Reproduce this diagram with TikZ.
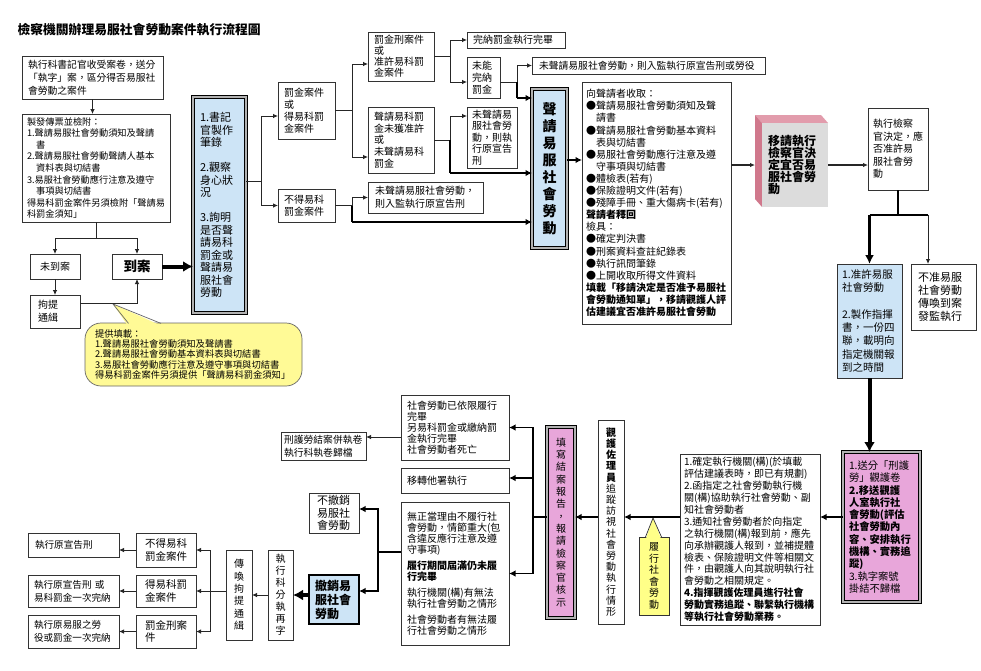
\documentclass[tikz,border=0pt]{standalone}
\usepackage{fontspec}
\setmainfont{Noto Sans CJK TC}
\usetikzlibrary{arrows.meta}
\definecolor{bluef}{RGB}{205,228,246}
\definecolor{pinkf}{RGB}{232,166,218}
\definecolor{yelf}{RGB}{255,255,136}
\definecolor{callf}{RGB}{255,250,150}
\definecolor{sideA}{RGB}{208,120,140}
\definecolor{sideB}{RGB}{226,156,172}
\definecolor{frontf}{RGB}{220,220,220}
\newcommand\myfs[2]{\fontsize{#1}{#2}\selectfont}
\newcommand\mkbox[8]{\node[#7, inner xsep=#6pt, minimum width={#4pt-#2pt}, minimum height={#5pt-#3pt}, text width={#4pt-#2pt-2*#6pt}] (#1) at ({(#2+#4)/2},{(#3+#5)/2}) {#8};}
\begin{document}
\begin{tikzpicture}[x=1pt,y=-1pt,
 box/.style={draw=black!80, line width=0.7pt, fill=white, align=left, inner ysep=2pt, outer sep=0pt},
 vbox/.style={box, align=center},
 dbl/.style={draw=black, line width=1.1pt, double=gray!60, double distance=1.4pt, align=left, inner ysep=3pt, outer sep=0pt},
 ln/.style={draw=black!85, line width=0.8pt},
 arr/.style={ln, -{Latex[length=5pt,width=4.5pt]}},
 mln/.style={draw=black, line width=1.8pt},
 marr/.style={mln, -{Latex[length=6.5pt,width=6.5pt]}},
 tln/.style={draw=black, line width=2.8pt},
 tarr/.style={tln, -{Latex[length=9pt,width=9pt]}},
 harr/.style={draw=black, line width=4pt, -{Latex[length=10pt,width=11pt]}}
]
\fill[white] (0,0) rectangle (981,670);
\useasboundingbox (0,0) rectangle (981,670);

\node[anchor=west, font={\myfs{12.8}{14}\bfseries}] (title) at (14,30) {檢察機關辦理易服社會勞動案件執行流程圖};

% left column
\mkbox{A}{22}{56}{163}{99}{6}{box,font={\myfs{9.8}{13.2}}}{執行科書記官收受案卷，送分\\「執字」案，區分得否易服社\\會勞動之案件}
\mkbox{B}{22}{114}{170}{222}{5}{box,font={\myfs{9.2}{11.6}}}{製發傳票並檢附：\\1.聲請易服社會勞動須知及聲請\\　書\\2.聲請易服社會勞動聲請人基本\\　資料表與切結書\\3.易服社會勞動應行注意及遵守\\　事項與切結書\\得易科罰金案件另須檢附「聲請易\\科罰金須知」}
\mkbox{NA}{30}{254}{80}{279}{4}{vbox,font={\myfs{10}{12}}}{未到案}
\mkbox{DA}{112}{254}{162}{279}{4}{vbox,font={\myfs{13.5}{15}\bfseries}}{到案}
\mkbox{KT}{30}{295}{80}{328}{8}{box,font={\myfs{10}{13}}}{拘提\\通緝}
\mkbox{C}{193}{97}{246}{313}{7}{dbl,fill=bluef,font={\myfs{11}{12.5}}}{1.書記\\官製作\\筆錄\\[12.5pt]2.觀察\\身心狀\\況\\[12.5pt]3.詢明\\是否聲\\請易科\\罰金或\\聲請易\\服社會\\勞動}

% callout Y
\mkbox{Y}{85}{323}{302}{386}{10}{box,draw=black!60,fill=callf,rounded corners=16pt,font={\myfs{9.3}{10.3}}}{提供填載：\\1.聲請易服社會勞動須知及聲請書\\2.聲請易服社會勞動基本資料表與切結書\\3.易服社會勞動應行注意及遵守事項與切結書\\得易科罰金案件另須提供「聲請易科罰金須知」}
\coordinate (ptY) at (113,304);
\fill[callf] (128,326) -- (ptY) -- (162,326) -- cycle;
\draw[black!60, line width=0.7pt] (128.5,323.4) -- (ptY) -- (161,323.4);

% middle top
\mkbox{D1}{278}{82}{335}{139}{6}{box,font={\myfs{10}{12}}}{罰金案件\\或\\得易科罰\\金案件}
\mkbox{D2}{278}{189}{335}{222}{6}{box,font={\myfs{10}{12}}}{不得易科\\罰金案件}
\mkbox{E1}{368}{32}{434}{81}{6}{box,font={\myfs{10}{11}}}{罰金刑案件\\或\\准許易科罰\\金案件}
\mkbox{E2}{368}{107}{434}{173}{6}{box,font={\myfs{10}{11.8}}}{聲請易科罰\\金未獲准許\\或\\未聲請易科\\罰金}
\mkbox{E3}{368}{182}{483}{213}{7}{box,font={\myfs{10}{13}}}{未聲請易服社會勞動，\\則入監執行原宣告刑}
\mkbox{G1}{467}{32}{565}{48}{6}{box,inner ysep=0pt,font={\myfs{10}{12}}}{完納罰金執行完畢}
\mkbox{G2}{467}{57}{500}{98}{5}{box,font={\myfs{10}{12}}}{未能\\完納\\罰金}
\mkbox{G3}{467}{107}{517}{168}{5}{box,font={\myfs{10}{11.5}}}{未聲請易\\服社會勞\\動，則執\\行原宣告\\刑}
\mkbox{G4}{532}{57}{765}{74}{7}{box,inner ysep=0pt,font={\myfs{9.8}{12}}}{未聲請易服社會勞動，則入監執行原宣告刑或勞役}
\mkbox{F}{532}{89}{567}{248}{4}{dbl,fill=bluef,align=center,font={\myfs{14}{17}\bfseries}}{聲\\請\\易\\服\\社\\會\\勞\\動}
\mkbox{H}{582}{82}{731}{324}{4}{box,font={\myfs{10}{12.1}}}{向聲請者收取：\\●聲請易服社會勞動須知及聲\\　請書\\●聲請易服社會勞動基本資料\\　表與切結書\\●易服社會勞動應行注意及遵\\　守事項與切結書\\●體檢表(若有)\\●保險證明文件(若有)\\●殘障手冊、重大傷病卡(若有)\\\textbf{聲請者釋回}\\檢具：\\●確定判決書\\●刑案資料查註紀錄表\\●執行訊問筆錄\\●上開收取所得文件資料\\\textbf{填載「移請決定是否准予易服社}\\\textbf{會勞動通知單」，移請觀護人評}\\\textbf{估建議宜否准許易服社會勞動}}

% 3D box I
\fill[sideB] (755,115) -- (821,115) -- (828,123) -- (762,123) -- cycle;
\fill[sideA] (755,115) -- (762,123) -- (762,207) -- (755,199) -- cycle;
\mkbox{I}{762}{123}{828}{207}{6}{box,draw=none,fill=frontf,font={\myfs{12}{12}\bfseries}}{移請執行\\檢察官決\\定宜否易\\服社會勞\\動}

% right column
\mkbox{J}{868}{108}{928}{190}{5}{box,font={\myfs{10}{12.5}}}{執行檢察\\官決定，應\\否准許易\\服社會勞\\動}
\mkbox{K}{837}{264}{902}{378}{5}{box,fill=bluef,font={\myfs{10.5}{13.3}}}{1.准許易服\\社會勞動\\[13.3pt]2.製作指揮\\書，一份四\\聯，載明向\\指定機關報\\到之時間}
\mkbox{L}{911}{264}{976}{330}{7}{box,font={\myfs{11}{13}}}{不准易服\\社會勞動\\傳喚到案\\發監執行}
\mkbox{M}{843}{452}{920}{602}{6}{dbl,fill=pinkf,font={\myfs{10.3}{12.3}}}{1.送分「刑護\\勞」觀護卷\\\textbf{2.移送觀護}\\\textbf{人室執行社}\\\textbf{會勞動(評估}\\\textbf{社會勞動內}\\\textbf{容、安排執行}\\\textbf{機構、實務追}\\\textbf{蹤)}\\3.執字案號\\掛結不歸檔}
\mkbox{N}{680}{454}{820}{625}{4}{box,font={\myfs{10}{11.9}}}{1.確定執行機關(構)(於填載\\評估建議表時，即已有規劃)\\2.函指定之社會勞動執行機\\關(構)協助執行社會勞動、副\\知社會勞動者\\3.通知社會勞動者於向指定\\之執行機關(構)報到前，應先\\向承辦觀護人報到，並補提體\\檢表、保險證明文件等相關文\\件，由觀護人向其說明執行社\\會勞動之相關規定。\\\textbf{4.指揮觀護佐理員進行社會}\\\textbf{勞動實務追蹤、聯繫執行機構}\\\textbf{等執行社會勞動業務。}}
\mkbox{O}{598}{420}{624}{624}{3}{vbox,font={\myfs{10}{11.2}}}{\textbf{觀}\\\textbf{護}\\\textbf{佐}\\\textbf{理}\\\textbf{員}\\追\\蹤\\訪\\視\\社\\會\\勞\\動\\執\\行\\情\\形}
\mkbox{P}{639}{537}{669}{615}{3}{vbox,fill=yelf,font={\myfs{10}{11.6}}}{履\\行\\社\\會\\勞\\動}
\coordinate (ptP) at (653,518);
\fill[yelf] (645.5,540) -- (ptP) -- (661.5,540) -- cycle;
\draw[black!80, line width=0.7pt] (645.5,537) -- (ptP) -- (661.5,537);
\mkbox{Q}{547}{427}{575}{618}{4}{dbl,fill=pinkf,align=center,font={\myfs{10}{12.3}}}{填\\寫\\結\\案\\報\\告\\，\\報\\請\\檢\\察\\官\\核\\示}

% bottom middle
\mkbox{R1}{401}{395}{509}{460}{6}{box,font={\myfs{10}{11}}}{社會勞動已依限履行\\完畢\\另易科罰金或繳納罰\\金執行完畢\\社會勞動者死亡}
\mkbox{R2}{401}{468}{509}{493}{6}{box,font={\myfs{10}{12}}}{移轉他署執行}
\mkbox{R3}{401}{502}{509}{645}{6}{box,font={\myfs{10}{11}}}{無正當理由不履行社\\會勞動，情節重大(包\\含違反應行注意及遵\\守事項)\\[5pt]\textbf{履行期間屆滿仍未履}\\\textbf{行完畢}\\[5pt]執行機關(構)有無法\\執行社會勞動之情形\\[5pt]社會勞動者有無法履\\行社會勞動之情形}
\mkbox{S}{281}{432}{366}{460}{3}{box,font={\myfs{9.8}{13}}}{刑護勞結案併執卷\\執行科執卷歸檔}
\mkbox{T1}{309}{493}{359}{533}{8}{box,font={\myfs{11}{12.5}}}{不撤銷\\易服社\\會勞動}
\mkbox{T2}{309}{575}{359}{624}{6}{box,line width=2pt,draw=black,fill=bluef,font={\myfs{12}{14}\bfseries}}{撤銷易\\服社會\\勞動}
\mkbox{U}{268}{550}{293}{640}{3}{vbox,font={\myfs{10}{12}}}{執\\行\\科\\分\\執\\再\\字}
\mkbox{V}{226}{550}{252}{640}{3}{vbox,font={\myfs{10}{12.4}}}{傳\\喚\\拘\\提\\通\\緝}
\mkbox{W1}{136}{533}{196}{567}{9}{box,font={\myfs{10.5}{12.5}}}{不得易科\\罰金案件}
\mkbox{W2}{136}{575}{196}{607}{9}{box,font={\myfs{10.5}{12.5}}}{得易科罰\\金案件}
\mkbox{W3}{136}{615}{196}{648}{9}{box,font={\myfs{10.5}{12.5}}}{罰金刑案\\件}
\mkbox{X1}{28}{533}{119}{557}{7}{box,font={\myfs{9.6}{13}}}{執行原宣告刑}
\mkbox{X2}{28}{575}{119}{607}{6}{box,font={\myfs{9.6}{13}}}{執行原宣告刑 或\\易科罰金一次完納}
\mkbox{X3}{28}{615}{119}{648}{6}{box,font={\myfs{9.6}{13}}}{執行原易服之勞\\役或罰金一次完納}

% ---------- connectors ----------
\draw[arr] (A.south) -- (A.south |- B.north);
\coordinate (j1) at (96,238);
\draw[ln] (B.south) -- (j1);
\draw[arr] (j1) -| (NA.north);
\draw[arr] (j1) -| (DA.north);
\draw[arr] (NA.south) -- (KT.north);
\draw[arr] ([yshift=8.5pt]KT.east) -| (DA.south);
\draw[harr] (DA.east) -- (DA.east -| C.west);

\coordinate (j2) at (261,181);
\draw[ln] (C.east |- j2) -- (j2);
\draw[arr] (j2) |- ([yshift=-5.5pt]D1.west);
\draw[arr] (j2) |- (D2.west);

\coordinate (j3) at (352,110.5);
\draw[ln] (D1.east) -- (j3);
\draw[arr] (j3) |- ([yshift=-7.5pt]E1.west);
\draw[arr] (j3) |- ([yshift=-17pt]E2.west);

\coordinate (j4) at (352,205.5);
\draw[ln] (D2.east) -- (j4);
\draw[arr] (j4) |- (E3.west);
\draw[mln] (j4) -- (352,222);
\draw[marr] (352,222) -- ([yshift=-53.5pt]F.west);

\coordinate (j5) at (450,56.5);
\draw[ln] (E1.east) -- (j5);
\draw[arr] (j5) |- (G1.west);
\draw[arr] (j5) |- ([yshift=-4.5pt]G2.west);

\coordinate (j6) at (450,140);
\draw[ln] (E2.east |- j6) -- (j6);
\draw[arr] (j6) |- ([yshift=21.5pt]G3.west);
\draw[mln] (j6) -- (450,173);
\draw[marr] (450,173) -- ([yshift=-4.5pt]F.west);

\coordinate (j7) at (517,82);
\draw[ln] (G2.east |- j7) -- (j7);
\draw[arr] (j7) |- (G4.west);
\draw[mln] (j7) -- (517,98);
\draw[marr] (517,98) -- ([yshift=70.5pt]F.west);

\draw[marr] ([yshift=8.5pt]F.east) -- ([yshift=8.5pt]F.east -| H.west);
\draw[arr, line width=1.3pt] (H.east |- I.west) -- ([xshift=-7pt]I.west);
\draw[arr, line width=1.3pt] (I.east) -- (I.east -| J.west);

\coordinate (j8) at (898,215);
\draw[tln] (J.south) -- (j8);
\draw[tln] (K.north |- j8) -- ([xshift=-15.5pt]L.north |- j8);
\draw[tarr] (K.north |- j8) -- (K.north);
\draw[arr, line width=1pt] ([xshift=-15.5pt]L.north |- j8) -- ([xshift=-15.5pt]L.north);
\draw[harr] (K.south) -- (K.south |- M.north);

\coordinate (j9) at (533,517);
\draw[marr] (M.west |- j9) -- (N.east |- j9);
\draw[marr, line width=2.2pt] (N.west |- j9) -- (O.east |- j9);
\draw[marr] (O.west |- j9) -- (Q.east |- j9);
\draw[mln] (Q.west |- j9) -- (j9);
\draw[marr] (j9) |- (R1.east);
\draw[marr] (j9) |- ([yshift=2.5pt]R2.east);
\draw[marr] (j9) |- (R3.east);

\coordinate (j12) at (390,437);
\draw[arr] (R1.west |- j12) -- (S.east |- j12);

\coordinate (j10) at (378,552);
\draw[mln] (R3.west |- j10) -- (j10);
\draw[marr] (j10) |- ([yshift=4pt]T1.east);
\draw[marr] (j10) |- ([yshift=8.5pt]T2.east);

\draw[harr] (T2.west |- U.east) -- (U.east);
\draw[arr] (U.west) -- (V.east);
\coordinate (j11) at (210,591);
\draw[ln] (V.west |- j11) -- (j11);
\draw[arr] (j11) |- (W1.east);
\draw[arr] (j11) -- (W2.east);
\draw[arr] (j11) |- (W3.east);
\draw[arr] (W1.west) -- (W1.west -| X1.east);
\draw[arr] (W2.west) -- (W2.west -| X2.east);
\draw[arr] (W3.west) -- (W3.west -| X3.east);
\end{tikzpicture}
\end{document}
